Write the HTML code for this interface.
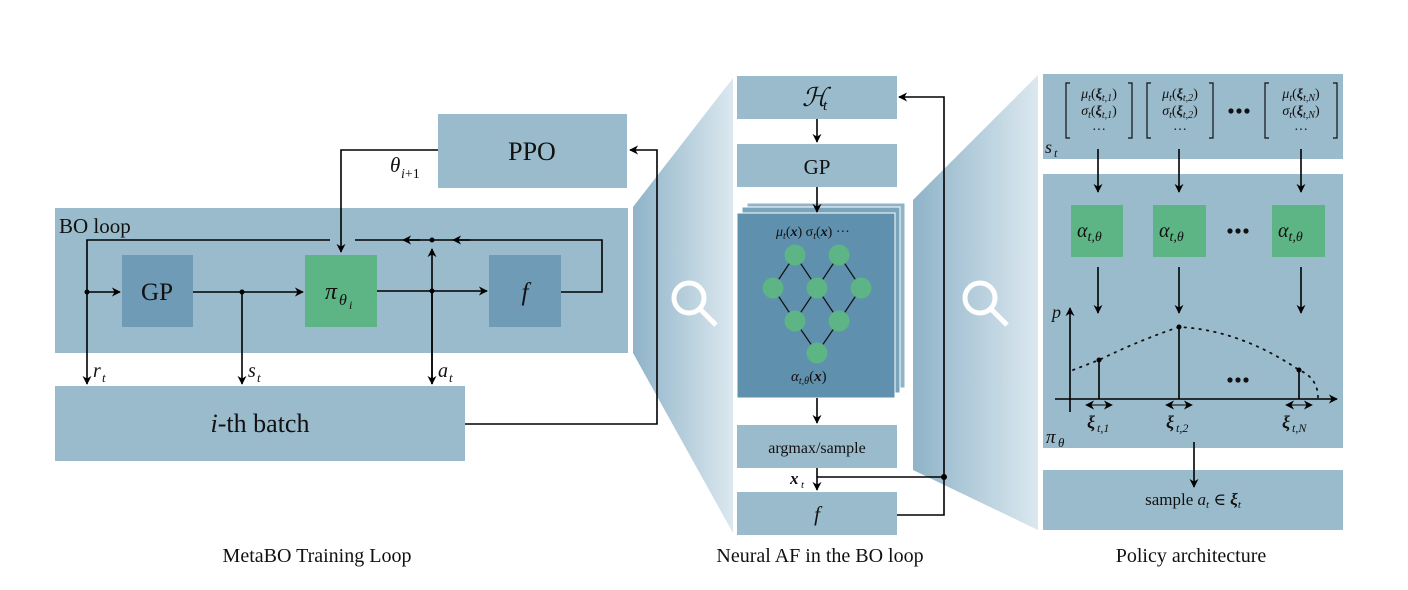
<!DOCTYPE html>
<html><head><meta charset="utf-8"><style>
html,body{margin:0;padding:0;background:#fff}
svg{display:block}
text{font-family:"Liberation Serif","DejaVu Serif",serif;fill:#111}
.i{font-style:italic}
</style></head><body>
<svg width="1408" height="590" viewBox="0 0 1408 590" xmlns="http://www.w3.org/2000/svg">
<defs>
<linearGradient id="g1" x1="0" x2="1" y1="0" y2="0"><stop offset="0" stop-color="#8fb3c8"/><stop offset="1" stop-color="#dbe8ef"/></linearGradient>
<marker id="a" viewBox="0 0 10 10" refX="9" refY="5" markerWidth="9" markerHeight="9" orient="auto-start-reverse" markerUnits="userSpaceOnUse"><path d="M0,0 L10,5 L0,10 L3,5 z" fill="#000"/></marker>
</defs>
<!-- trapezoids -->
<polygon points="633,207 733,78 733,533 633,353" fill="url(#g1)"/>
<polygon points="913,200 1038,75 1038,530 913,470" fill="url(#g1)"/>
<g fill="none" stroke="#fff" stroke-width="5"><circle cx="689" cy="298" r="15"/><line x1="700" y1="309" x2="716" y2="325"/>
<circle cx="980" cy="298" r="15"/><line x1="991" y1="309" x2="1007" y2="325"/></g>

<!-- LEFT -->
<rect x="438" y="114" width="189" height="74" fill="#9abbcc"/>
<text x="532" y="160" font-size="26" text-anchor="middle">PPO</text>
<rect x="55" y="208" width="573" height="145" fill="#9abbcc"/>
<text x="59" y="233" font-size="21">BO loop</text>
<rect x="122" y="255" width="71" height="72" fill="#6f9bb6"/>
<text x="157" y="300" font-size="25" text-anchor="middle">GP</text>
<rect x="305" y="255" width="72" height="72" fill="#5db484"/>
<text x="325" y="299" font-size="24" class="i">π</text><text x="339" y="305" font-size="16" class="i">θ</text><text x="349" y="309" font-size="12" class="i">i</text>
<rect x="489" y="255" width="72" height="72" fill="#6f9bb6"/>
<text x="525" y="300" font-size="25" class="i" text-anchor="middle">f</text>
<rect x="55" y="386" width="410" height="75" fill="#9abbcc"/>
<text x="260" y="432" font-size="26" text-anchor="middle"><tspan class="i">i</tspan>-th batch</text>
<g stroke="#000" stroke-width="1.6" fill="none">
<polyline points="438,150 341,150 341,252" marker-end="url(#a)"/>
<polyline points="330,240 87,240 87,384" marker-end="url(#a)"/>
<line x1="87" y1="292" x2="120" y2="292" marker-end="url(#a)"/>
<line x1="193" y1="292" x2="303" y2="292" marker-end="url(#a)"/>
<line x1="242" y1="292" x2="242" y2="384" marker-end="url(#a)"/>
<line x1="377" y1="291" x2="487" y2="291" marker-end="url(#a)"/>
<line x1="432" y1="384" x2="432" y2="249" marker-end="url(#a)"/>
<line x1="432" y1="291" x2="432" y2="384" marker-end="url(#a)"/>
<polyline points="561,292 602,292 602,240 355,240"/>
<line x1="470" y1="240" x2="453" y2="240" marker-end="url(#a)"/>
<line x1="420" y1="240" x2="403" y2="240" marker-end="url(#a)"/>
<polyline points="465,424 657,424 657,150 630,150" marker-end="url(#a)"/>
</g>
<g fill="#000"><circle cx="87" cy="292" r="2.5"/><circle cx="242" cy="292" r="2.5"/><circle cx="432" cy="291" r="2.5"/><circle cx="432" cy="240" r="2.5"/></g>
<text x="390" y="172" font-size="21" class="i">θ</text><text x="401" y="178" font-size="14"><tspan class="i">i</tspan>+1</text>
<text x="93" y="377" font-size="20" class="i">r</text><text x="102" y="382" font-size="13" class="i">t</text>
<text x="248" y="377" font-size="20" class="i">s</text><text x="257" y="382" font-size="13" class="i">t</text>
<text x="438" y="377" font-size="20" class="i">a</text><text x="449" y="382" font-size="13" class="i">t</text>
<text x="317" y="562" font-size="20" text-anchor="middle">MetaBO Training Loop</text>

<!-- MIDDLE -->
<rect x="737" y="76" width="160" height="43" fill="#9abbcc"/>
<text x="802" y="106" font-size="26" class="i">ℋ</text><text x="823" y="110" font-size="15" class="i">t</text>
<rect x="737" y="144" width="160" height="43" fill="#9abbcc"/>
<text x="817" y="174" font-size="21" text-anchor="middle">GP</text>
<rect x="747" y="203" width="158" height="185" fill="#8fb3c8" stroke="#fff" stroke-width="1"/>
<rect x="742" y="207" width="158" height="186" fill="#7aa3bc" stroke="#fff" stroke-width="1"/>
<rect x="737" y="213" width="158" height="185" fill="#5f90ad" stroke="#fff" stroke-width="1"/>
<text x="776" y="236" font-size="14" class="i">μ<tspan font-size="10" dy="3">t</tspan><tspan dy="-3" font-style="normal">(</tspan><tspan font-weight="bold">x</tspan><tspan font-style="normal">) σ</tspan><tspan font-size="10" dy="3">t</tspan><tspan dy="-3" font-style="normal">(</tspan><tspan font-weight="bold">x</tspan><tspan font-style="normal">) ···</tspan></text>
<g stroke="#111" stroke-width="1.2">
<line x1="795" y1="255" x2="773" y2="288"/><line x1="795" y1="255" x2="817" y2="288"/><line x1="839" y1="255" x2="817" y2="288"/><line x1="839" y1="255" x2="861" y2="288"/>
<line x1="773" y1="288" x2="795" y2="321"/><line x1="817" y1="288" x2="795" y2="321"/><line x1="817" y1="288" x2="839" y2="321"/><line x1="861" y1="288" x2="839" y2="321"/>
<line x1="795" y1="321" x2="817" y2="353"/><line x1="839" y1="321" x2="817" y2="353"/></g>
<g fill="#5db484"><circle cx="795" cy="255" r="10.5"/><circle cx="839" cy="255" r="10.5"/><circle cx="773" cy="288" r="10.5"/><circle cx="817" cy="288" r="10.5"/><circle cx="861" cy="288" r="10.5"/><circle cx="795" cy="321" r="10.5"/><circle cx="839" cy="321" r="10.5"/><circle cx="817" cy="353" r="10.5"/></g>
<text x="791" y="381" font-size="15" class="i">α<tspan font-size="10" dy="3">t,θ</tspan><tspan dy="-3" font-style="normal">(</tspan><tspan font-weight="bold">x</tspan><tspan font-style="normal">)</tspan></text>
<rect x="737" y="425" width="160" height="43" fill="#9abbcc"/>
<text x="817" y="453" font-size="16" text-anchor="middle">argmax/sample</text>
<rect x="737" y="492" width="160" height="43" fill="#9abbcc"/>
<text x="817" y="521" font-size="21" class="i" text-anchor="middle">f</text>
<g stroke="#000" stroke-width="1.6" fill="none">
<line x1="817" y1="119" x2="817" y2="142" marker-end="url(#a)"/>
<line x1="817" y1="187" x2="817" y2="212" marker-end="url(#a)"/>
<line x1="817" y1="398" x2="817" y2="423" marker-end="url(#a)"/>
<line x1="817" y1="468" x2="817" y2="490" marker-end="url(#a)"/>
<line x1="817" y1="477" x2="944" y2="477"/>
<polyline points="897,515 944,515 944,97 899,97" marker-end="url(#a)"/>
</g>
<circle cx="944" cy="477" r="3" fill="#000"/>
<text x="790" y="484" font-size="17" font-weight="bold" class="i">x</text><text x="801" y="488" font-size="11" class="i">t</text>
<text x="820" y="562" font-size="20" text-anchor="middle">Neural AF in the BO loop</text>

<!-- RIGHT -->
<rect x="1043" y="74" width="300" height="85" fill="#9abbcc"/>
<g font-size="14" class="i">
<text x="1099" y="98" text-anchor="middle">μ<tspan font-size="10" dy="3">t</tspan><tspan dy="-3" font-style="normal">(</tspan><tspan font-weight="bold">ξ</tspan><tspan font-size="10" dy="3">t,1</tspan><tspan dy="-3" font-style="normal">)</tspan></text>
<text x="1099" y="115" text-anchor="middle">σ<tspan font-size="10" dy="3">t</tspan><tspan dy="-3" font-style="normal">(</tspan><tspan font-weight="bold">ξ</tspan><tspan font-size="10" dy="3">t,1</tspan><tspan dy="-3" font-style="normal">)</tspan></text>
<text x="1099" y="134" text-anchor="middle" font-style="normal">···</text>
<text x="1180" y="98" text-anchor="middle">μ<tspan font-size="10" dy="3">t</tspan><tspan dy="-3" font-style="normal">(</tspan><tspan font-weight="bold">ξ</tspan><tspan font-size="10" dy="3">t,2</tspan><tspan dy="-3" font-style="normal">)</tspan></text>
<text x="1180" y="115" text-anchor="middle">σ<tspan font-size="10" dy="3">t</tspan><tspan dy="-3" font-style="normal">(</tspan><tspan font-weight="bold">ξ</tspan><tspan font-size="10" dy="3">t,2</tspan><tspan dy="-3" font-style="normal">)</tspan></text>
<text x="1180" y="134" text-anchor="middle" font-style="normal">···</text>
<text x="1301" y="98" text-anchor="middle">μ<tspan font-size="10" dy="3">t</tspan><tspan dy="-3" font-style="normal">(</tspan><tspan font-weight="bold">ξ</tspan><tspan font-size="10" dy="3">t,N</tspan><tspan dy="-3" font-style="normal">)</tspan></text>
<text x="1301" y="115" text-anchor="middle">σ<tspan font-size="10" dy="3">t</tspan><tspan dy="-3" font-style="normal">(</tspan><tspan font-weight="bold">ξ</tspan><tspan font-size="10" dy="3">t,N</tspan><tspan dy="-3" font-style="normal">)</tspan></text>
<text x="1301" y="134" text-anchor="middle" font-style="normal">···</text>
</g>
<g stroke="#111" stroke-width="1.2" fill="none">
<polyline points="1070,83 1066,83 1066,138 1070,138"/><polyline points="1128,83 1132,83 1132,138 1128,138"/>
<polyline points="1151,83 1147,83 1147,138 1151,138"/><polyline points="1209,83 1213,83 1213,138 1209,138"/>
<polyline points="1269,83 1265,83 1265,138 1269,138"/><polyline points="1333,83 1337,83 1337,138 1333,138"/>
</g>
<g fill="#111"><circle cx="1231" cy="111" r="2.6"/><circle cx="1239" cy="111" r="2.6"/><circle cx="1247" cy="111" r="2.6"/></g>
<text x="1045" y="153" font-size="18" class="i">s</text><text x="1054" y="157" font-size="12" class="i">t</text>
<rect x="1043" y="174" width="300" height="274" fill="#9abbcc"/>
<rect x="1071" y="205" width="52" height="52" fill="#5db484"/>
<rect x="1153" y="205" width="53" height="52" fill="#5db484"/>
<rect x="1272" y="205" width="53" height="52" fill="#5db484"/>
<g font-size="20" class="i">
<text x="1077" y="237">α<tspan font-size="14" dy="4">t,θ</tspan></text>
<text x="1159" y="237">α<tspan font-size="14" dy="4">t,θ</tspan></text>
<text x="1278" y="237">α<tspan font-size="14" dy="4">t,θ</tspan></text></g>
<g fill="#111"><circle cx="1230" cy="231" r="2.6"/><circle cx="1238" cy="231" r="2.6"/><circle cx="1246" cy="231" r="2.6"/>
<circle cx="1230" cy="380" r="2.6"/><circle cx="1238" cy="380" r="2.6"/><circle cx="1246" cy="380" r="2.6"/></g>
<rect x="1043" y="470" width="300" height="60" fill="#9abbcc"/>
<g stroke="#000" stroke-width="1.6" fill="none">
<line x1="1098" y1="149" x2="1098" y2="192" marker-end="url(#a)"/>
<line x1="1179" y1="149" x2="1179" y2="192" marker-end="url(#a)"/>
<line x1="1301" y1="149" x2="1301" y2="192" marker-end="url(#a)"/>
<line x1="1098" y1="267" x2="1098" y2="313" marker-end="url(#a)"/>
<line x1="1179" y1="267" x2="1179" y2="313" marker-end="url(#a)"/>
<line x1="1301" y1="267" x2="1301" y2="313" marker-end="url(#a)"/>
<line x1="1070" y1="412" x2="1070" y2="308" marker-end="url(#a)"/>
<line x1="1055" y1="399" x2="1337" y2="399" marker-end="url(#a)"/>
<line x1="1099" y1="360" x2="1099" y2="399"/>
<line x1="1179" y1="327" x2="1179" y2="399"/>
<line x1="1299" y1="370" x2="1299" y2="399"/>
<line x1="1194" y1="442" x2="1194" y2="487" marker-end="url(#a)"/>
</g>
<g stroke="#000" stroke-width="1" fill="none">
<line x1="1086" y1="405" x2="1112" y2="405" marker-start="url(#a)" marker-end="url(#a)"/>
<line x1="1166" y1="405" x2="1192" y2="405" marker-start="url(#a)" marker-end="url(#a)"/>
<line x1="1286" y1="405" x2="1312" y2="405" marker-start="url(#a)" marker-end="url(#a)"/>
</g>
<path d="M1073,370 L1099,360 Q1140,340 1179,327 Q1240,330 1299,370 Q1318,378 1318,398" fill="none" stroke="#111" stroke-width="1.8" stroke-dasharray="1.5,6" stroke-linecap="round"/>
<g fill="#000"><circle cx="1099" cy="360" r="2.5"/><circle cx="1179" cy="327" r="2.5"/><circle cx="1299" cy="370" r="2.5"/></g>
<text x="1052" y="318" font-size="18" class="i">p</text>
<text x="1046" y="443" font-size="19" class="i">π</text><text x="1058" y="447" font-size="13" class="i">θ</text>
<g font-size="18"><text x="1087" y="428" font-weight="bold" class="i">ξ</text><text x="1097" y="432" font-size="12" class="i">t,1</text>
<text x="1166" y="428" font-weight="bold" class="i">ξ</text><text x="1176" y="432" font-size="12" class="i">t,2</text>
<text x="1282" y="428" font-weight="bold" class="i">ξ</text><text x="1292" y="432" font-size="12" class="i">t,N</text></g>
<text x="1193" y="505" font-size="17" text-anchor="middle">sample <tspan class="i">a</tspan><tspan class="i" font-size="11" dy="3">t</tspan><tspan dy="-3"> ∈ </tspan><tspan font-weight="bold" class="i">ξ</tspan><tspan class="i" font-size="11" dy="3">t</tspan></text>
<text x="1191" y="562" font-size="20" text-anchor="middle">Policy architecture</text>
</svg>
</body></html>
